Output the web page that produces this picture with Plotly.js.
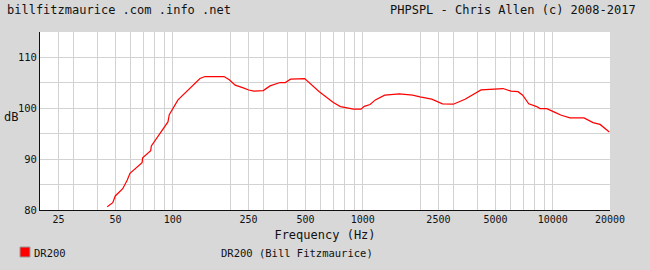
<!DOCTYPE html>
<html>
<head>
<meta charset="utf-8">
<script src="https://cdn.plot.ly/plotly-3.0.1.min.js"></script>
<style>html,body{margin:0;padding:0;background:#d8d8d8;}#chart{width:650px;height:270px;}</style>
</head>
<body>
<div id="chart"></div>
<script>
// Data
const seriesName = 'DR200';
const seriesLabel = 'DR200 (Bill Fitzmaurice)';
const freqHz = [45.2, 48.3, 49.8, 54.5, 57.6, 59.5, 68.9, 69.4, 76.5, 77.1, 94.3, 95.8, 106.5, 139, 147.7, 186, 198.3, 213, 235, 250.8, 267.5, 299.4, 324.8, 366.6, 391, 416.4, 494.6, 588, 699.6, 763, 893, 978.6, 1018, 1092, 1164, 1304, 1556, 1831, 2000, 2305, 2626, 2994, 3452, 4190, 5468, 6024, 6560, 6942, 7468, 8228, 8564, 9290, 10268, 11082, 12318, 14596, 16278, 17724, 19830];
const splDb = [80.65, 81.44, 82.76, 84.19, 85.91, 87.22, 89.31, 90.24, 91.67, 92.6, 97.32, 98.76, 101.65, 105.85, 106.24, 106.24, 105.6, 104.55, 104.02, 103.6, 103.37, 103.48, 104.4, 105.06, 105.06, 105.73, 105.85, 103.29, 101.12, 100.33, 99.82, 99.82, 100.37, 100.73, 101.65, 102.58, 102.83, 102.58, 102.25, 101.79, 100.87, 100.8, 101.79, 103.62, 103.88, 103.37, 103.27, 102.58, 100.87, 100.33, 99.94, 99.94, 99.19, 98.64, 98.11, 98.11, 97.19, 96.83, 95.35];
const xTickVals = [25, 30, 40, 50, 60, 70, 80, 90, 100, 200, 250, 300, 400, 500, 600, 700, 800, 900, 1000, 2000, 2500, 3000, 4000, 5000, 6000, 7000, 8000, 9000, 10000, 20000];
const xTickText = ['25', '', '', '50', '', '', '', '', '100', '', '250', '', '', '500', '', '', '', '', '1000', '', '2500', '', '', '5000', '', '', '', '', '10000', '20000'];
const yTickVals = [80, 85, 90, 95, 100, 105, 110];
const yTickText = ['80', '', '90', '', '100', '', '110'];
const titleLeft = 'billfitzmaurice .com .info .net';
const titleRight = 'PHPSPL - Chris Allen (c) 2008-2017';

const W = 650, H = 270, L = 40, R = 40, T = 32, B = 60;
const pw = W - L - R, ph = H - T - B;
const px = x => (x - L) / pw;
const py = y => (H - B - y) / ph;
const FONT = 'DejaVu Sans Mono';

const trace = {
  x: freqHz, y: splDb, type: 'scatter', mode: 'lines', name: seriesName,
  line: {color: '#ff0000', width: 1.2}, showlegend: false, hoverinfo: 'skip'
};

const layout = {
  width: W, height: H,
  margin: {l: L, r: R, t: T, b: B, pad: 0},
  paper_bgcolor: '#d8d8d8', plot_bgcolor: '#ffffff',
  font: {family: FONT, size: 10, color: '#111'},
  showlegend: false,
  xaxis: {
    type: 'log', range: [Math.log10(20), Math.log10(20000)],
    tickmode: 'array', tickvals: xTickVals, ticktext: xTickText,
    showgrid: true, gridcolor: '#d2d2d2', gridwidth: 1,
    showline: true, linecolor: '#111', linewidth: 1, ticks: '',
    zeroline: false, tickfont: {family: FONT, size: 10, color: '#111'},
    title: {text: 'Frequency (Hz)', font: {family: FONT, size: 12, color: '#111'}, standoff: 6},
    automargin: false, fixedrange: true
  },
  yaxis: {
    range: [80, 115],
    tickmode: 'array', tickvals: yTickVals, ticktext: yTickText,
    showgrid: true, gridcolor: '#d2d2d2', gridwidth: 1,
    showline: true, linecolor: '#111', linewidth: 1, ticks: '',
    zeroline: false, tickfont: {family: FONT, size: 10.5, color: '#111'},
    automargin: false, fixedrange: true
  },
  shapes: [
    {type: 'rect', xref: 'paper', yref: 'paper', x0: px(20), x1: px(30), y0: py(257), y1: py(247),
     fillcolor: '#ff0000', line: {color: '#999', width: 1}}
  ],
  annotations: [
    {text: titleLeft, xref: 'paper', yref: 'paper', x: px(5), y: py(10), xanchor: 'left', yanchor: 'middle',
     showarrow: false, font: {family: FONT, size: 12, color: '#111'}},
    {text: titleRight, xref: 'paper', yref: 'paper', x: px(638), y: py(10), xanchor: 'right', yanchor: 'middle',
     showarrow: false, font: {family: FONT, size: 12, color: '#111'}},
    {text: 'dB', xref: 'paper', yref: 'paper', x: px(2), y: py(117), xanchor: 'left', yanchor: 'middle',
     showarrow: false, font: {family: FONT, size: 12, color: '#111'}},
    {text: seriesName, xref: 'paper', yref: 'paper', x: px(32), y: py(253), xanchor: 'left', yanchor: 'middle',
     showarrow: false, font: {family: FONT, size: 10.5, color: '#111'}},
    {text: seriesLabel, xref: 'paper', yref: 'paper', x: px(219), y: py(253), xanchor: 'left', yanchor: 'middle',
     showarrow: false, font: {family: FONT, size: 10.5, color: '#111'}}
  ]
};

Plotly.newPlot('chart', [trace], layout, {staticPlot: true, displayModeBar: false});
</script>
</body>
</html>
